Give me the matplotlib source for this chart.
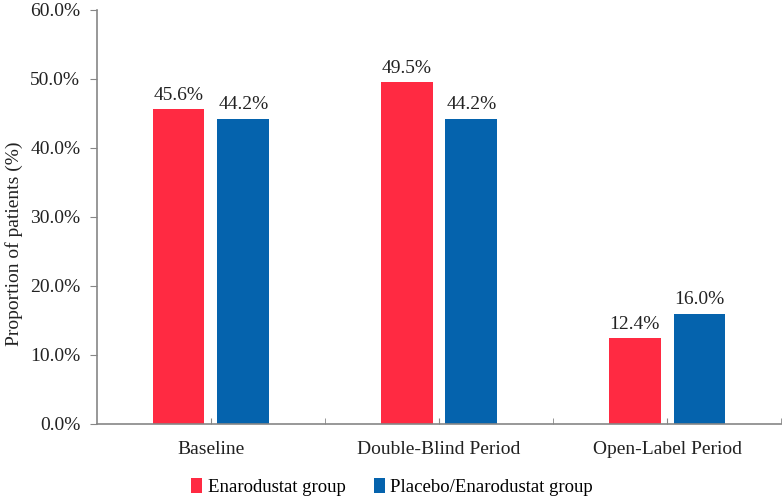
import matplotlib
matplotlib.use('Agg')
import matplotlib.pyplot as plt
import numpy as np

# data
categories = ['Baseline', 'Double-Blind Period', 'Open-Label Period']
enarodustat = [45.6, 49.5, 12.4]
placebo = [44.2, 44.2, 16.0]
series_names = ['Enarodustat group', 'Placebo/Enarodustat group']

plt.rcParams['font.family'] = ['Liberation Serif', 'DejaVu Serif']
plt.rcParams['font.size'] = 14

fig = plt.figure(figsize=(7.84, 4.98), dpi=100)
ax = fig.add_axes([0.1237, 0.1486, 0.8725, 0.8314])

x = np.arange(len(categories))
w = 0.228
off = 0.1425
red = '#FF2A42'
blue = '#0563AD'
b1 = ax.bar(x - off, enarodustat, w, color=red, label=series_names[0])
b2 = ax.bar(x + off, placebo, w, color=blue, label=series_names[1])

for bars, vals in [(b1, enarodustat), (b2, placebo)]:
    for r, v in zip(bars, vals):
        ax.annotate('%.1f%%' % v, (r.get_x() + r.get_width() / 2, v),
                    xytext=(0, 4), textcoords='offset points',
                    ha='center', va='bottom', color='#222222')

ax.set_xlim(-0.5, 2.5)
ax.set_ylim(0, 60)
ax.set_yticks(np.arange(0, 61, 10))
ax.set_yticklabels(['%.1f%%' % t for t in np.arange(0, 61, 10)])
ax.set_xticks(x)
ax.set_xticklabels(categories)
ax.set_xticks([0.5, 1.5, 2.5], minor=True)

axis_col = '#868686'
for s in ['top', 'right']:
    ax.spines[s].set_visible(False)
for s in ['left', 'bottom']:
    ax.spines[s].set_color(axis_col)
    ax.spines[s].set_linewidth(1.2)

ax.tick_params(axis='y', direction='out', length=5, color=axis_col, pad=7, labelcolor='#222222')
ax.tick_params(axis='x', which='both', direction='in', length=4, color=axis_col, pad=12, labelcolor='#222222')

ax.set_ylabel('Proportion of patients (%)', color='#222222')
ax.yaxis.set_label_coords(-0.108, 0.435)

fig.legend(handles=[b1, b2], loc='center', bbox_to_anchor=(0.5, 0.022),
           ncol=2, frameon=False, fontsize=13.5, handlelength=0.6, handleheight=0.8,
           handletextpad=0.3, columnspacing=1.5)

fig.savefig('out.png', dpi=100)
